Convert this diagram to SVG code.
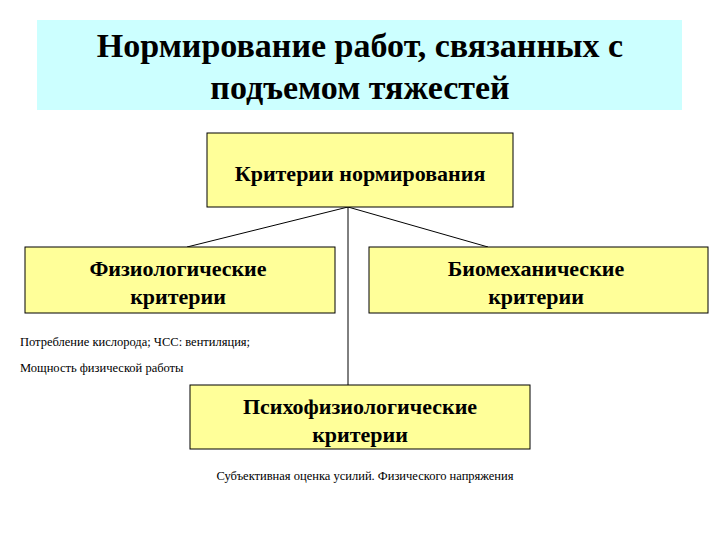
<svg xmlns="http://www.w3.org/2000/svg" width="720" height="540" viewBox="0 0 720 540">
<style>
.box{fill:#ffff99;stroke:#000;stroke-width:1}
.t{font-family:"Liberation Serif",serif;font-weight:bold;font-size:22px;text-anchor:middle;fill:#000}
.h{font-size:34px}
.s{font-family:"Liberation Serif",serif;font-size:12.5px;fill:#000}
.c{stroke:#000;stroke-width:1;fill:none}
</style>
<rect width="720" height="540" fill="#fff"/>
<g id="title">
<rect x="37" y="20" width="645" height="90" fill="#ccffff"/>
<text class="t h" x="360" y="57">Нормирование работ, связанных с</text>
<text class="t h" x="360" y="99">подъемом тяжестей</text>
</g>
<g id="connectors">
<line class="c" x1="348" y1="207" x2="187" y2="247"/>
<line class="c" x1="348" y1="207" x2="488" y2="247"/>
<line class="c" x1="348" y1="207" x2="348" y2="385"/>
</g>
<g id="top"><rect class="box" x="207" y="133" width="306" height="74"/>
<text class="t" x="360" y="181">Критерии нормирования</text></g>
<g id="phys"><rect class="box" x="25" y="247" width="310" height="66"/>
<text class="t" x="178" y="276">Физиологические</text>
<text class="t" x="178" y="304">критерии</text></g>
<g id="bio"><rect class="box" x="369" y="247" width="339" height="66"/>
<text class="t" x="536" y="276">Биомеханические</text>
<text class="t" x="536" y="304">критерии</text></g>
<g id="psy"><rect class="box" x="190" y="385" width="340" height="64"/>
<text class="t" x="360" y="414">Психофизиологические</text>
<text class="t" x="360" y="442">критерии</text></g>
<text class="s" x="20" y="346">Потребление кислорода; ЧСС: вентиляция;</text>
<text class="s" x="20" y="372">Мощность физической работы</text>
<text class="s" x="365" y="480" text-anchor="middle">Субъективная оценка усилий. Физического напряжения</text>
</svg>
